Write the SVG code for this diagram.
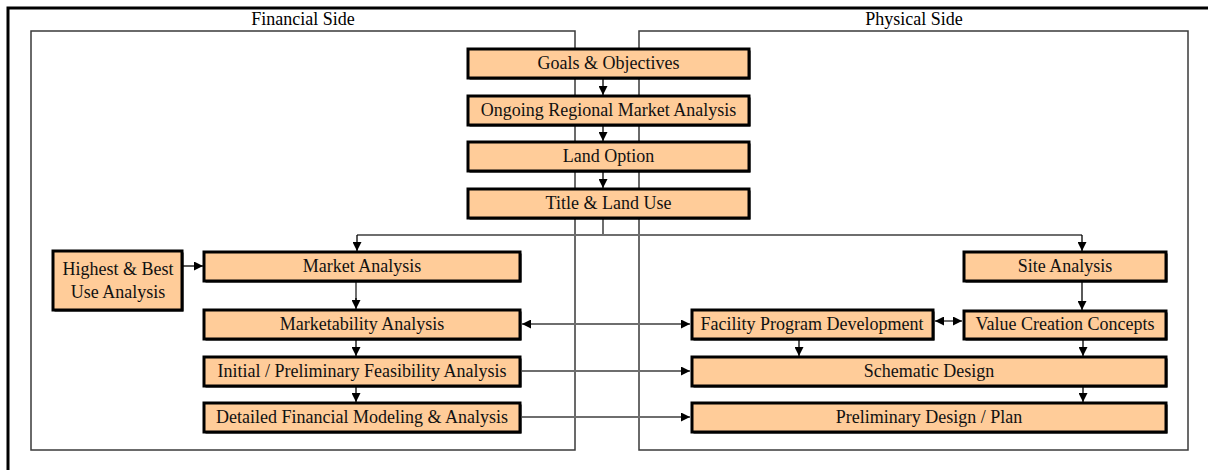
<svg xmlns="http://www.w3.org/2000/svg" width="1208" height="470" viewBox="0 0 1208 470">
  <defs>
    <style>
      .frame { fill: none; stroke: #000; stroke-width: 3; }
      .panel { fill: none; stroke: #3a3a3a; stroke-width: 1.5; }
      .title { font-family: "Liberation Serif", "Times New Roman", serif; font-size: 18px; fill: #000; text-anchor: middle; }
      .box { fill: #FFCC99; stroke: #000; stroke-width: 3; }
      .shadow { fill: #000; }
      .lbl { font-family: "Liberation Serif", "Times New Roman", serif; font-size: 18px; fill: #111; text-anchor: middle; }
      .arrow { fill: none; stroke: #000; stroke-width: 1.3; }
      .feed { fill: none; stroke: #6e6e6e; stroke-width: 2; }
    </style>
    <marker id="head" viewBox="0 0 10 10" refX="10" refY="5" markerWidth="9" markerHeight="9" markerUnits="userSpaceOnUse" orient="auto-start-reverse">
      <path d="M0 0 L10 5 L0 10 Z" fill="#000"/>
    </marker>
  </defs>

  <rect width="1208" height="470" fill="#fff"/>

  <!-- outer frame, right and bottom edges fall outside the page -->
  <rect class="frame" x="8" y="8" width="1220" height="480"/>

  <!-- side panels -->
  <g id="financial-side">
    <rect class="panel" x="31" y="31" width="544" height="419"/>
    <text class="title" x="303" y="25">Financial Side</text>
  </g>
  <g id="physical-side">
    <rect class="panel" x="639" y="31" width="549" height="419"/>
    <text class="title" x="914" y="25">Physical Side</text>
  </g>

  <!-- connectors -->
  <g id="connectors">
    <path class="arrow" d="M603 79 V95" marker-end="url(#head)"/>
    <path class="arrow" d="M603 126 V141" marker-end="url(#head)"/>
    <path class="arrow" d="M603 172 V188" marker-end="url(#head)"/>
    <path class="feed" d="M603 219 V235"/>
    <path class="feed" d="M357 235 H1082"/>
    <path class="arrow" d="M357 235 V251" marker-end="url(#head)"/>
    <path class="arrow" d="M1082 235 V251" marker-end="url(#head)"/>
    <path class="arrow" d="M182 266 H203" marker-end="url(#head)"/>
    <path class="feed" d="M356 282 V300"/>
    <path class="arrow" d="M356 298 V309" marker-end="url(#head)"/>
    <path class="feed" d="M522 324 H690" marker-start="url(#head)" marker-end="url(#head)"/>
    <path class="arrow" d="M356 340 V356" marker-end="url(#head)"/>
    <path class="arrow" d="M356 387 V402" marker-end="url(#head)"/>
    <path class="arrow" d="M1082 282 V310" marker-end="url(#head)"/>
    <path class="feed" d="M935 321 H962" marker-start="url(#head)" marker-end="url(#head)"/>
    <path class="arrow" d="M799 340 V356" marker-end="url(#head)"/>
    <path class="arrow" d="M1083 340 V356" marker-end="url(#head)"/>
    <path class="arrow" d="M1083 387 V402" marker-end="url(#head)"/>
    <path class="feed" d="M522 371 H690" marker-end="url(#head)"/>
    <path class="feed" d="M522 417 H690" marker-end="url(#head)"/>
  </g>

  <!-- process steps -->
  <g id="goals">
    <rect class="shadow" x="469.5" y="50.5" width="281" height="29"/>
    <rect class="box" x="468" y="49" width="281" height="29"/>
    <text class="lbl" x="608.5" y="69">Goals &amp; Objectives</text>
  </g>
  <g id="regional-market">
    <rect class="shadow" x="469.5" y="97.5" width="281" height="29"/>
    <rect class="box" x="468" y="96" width="281" height="29"/>
    <text class="lbl" x="608.5" y="116">Ongoing Regional Market Analysis</text>
  </g>
  <g id="land-option">
    <rect class="shadow" x="469.5" y="143.5" width="281" height="29"/>
    <rect class="box" x="468" y="142" width="281" height="29"/>
    <text class="lbl" x="608.5" y="162">Land Option</text>
  </g>
  <g id="title-land-use">
    <rect class="shadow" x="469.5" y="190.5" width="281" height="29"/>
    <rect class="box" x="468" y="189" width="281" height="29"/>
    <text class="lbl" x="608.5" y="209">Title &amp; Land Use</text>
  </g>

  <g id="highest-best-use">
    <rect class="shadow" x="54.5" y="252.5" width="129" height="59"/>
    <rect class="box" x="53" y="251" width="129" height="59"/>
    <text class="lbl" x="118" y="275">Highest &amp; Best</text>
    <text class="lbl" x="118" y="298">Use Analysis</text>
  </g>
  <g id="market-analysis">
    <rect class="shadow" x="205.5" y="253.5" width="316" height="29"/>
    <rect class="box" x="204" y="252" width="316" height="29"/>
    <text class="lbl" x="362" y="272">Market Analysis</text>
  </g>
  <g id="marketability">
    <rect class="shadow" x="205.5" y="311.5" width="316" height="29"/>
    <rect class="box" x="204" y="310" width="316" height="29"/>
    <text class="lbl" x="362" y="330">Marketability Analysis</text>
  </g>
  <g id="feasibility">
    <rect class="shadow" x="205.5" y="358.5" width="316" height="29"/>
    <rect class="box" x="204" y="357" width="316" height="29"/>
    <text class="lbl" x="362" y="377">Initial / Preliminary Feasibility Analysis</text>
  </g>
  <g id="financial-modeling">
    <rect class="shadow" x="205.5" y="404.5" width="316" height="29"/>
    <rect class="box" x="204" y="403" width="316" height="29"/>
    <text class="lbl" x="362" y="423">Detailed Financial Modeling &amp; Analysis</text>
  </g>

  <g id="site-analysis">
    <rect class="shadow" x="965.5" y="253.5" width="202" height="29"/>
    <rect class="box" x="964" y="252" width="202" height="29"/>
    <text class="lbl" x="1065" y="272">Site Analysis</text>
  </g>
  <g id="facility-program">
    <rect class="shadow" x="693.5" y="311.5" width="241" height="29"/>
    <rect class="box" x="692" y="310" width="241" height="29"/>
    <text class="lbl" x="812" y="330">Facility Program Development</text>
  </g>
  <g id="value-creation">
    <rect class="shadow" x="965.5" y="312.5" width="202" height="28"/>
    <rect class="box" x="964" y="311" width="202" height="28"/>
    <text class="lbl" x="1065" y="330">Value Creation Concepts</text>
  </g>
  <g id="schematic-design">
    <rect class="shadow" x="693.5" y="358.5" width="474" height="29"/>
    <rect class="box" x="692" y="357" width="474" height="29"/>
    <text class="lbl" x="929" y="377">Schematic Design</text>
  </g>
  <g id="preliminary-design">
    <rect class="shadow" x="693.5" y="404.5" width="474" height="29"/>
    <rect class="box" x="692" y="403" width="474" height="29"/>
    <text class="lbl" x="929" y="423">Preliminary Design / Plan</text>
  </g>
</svg>
